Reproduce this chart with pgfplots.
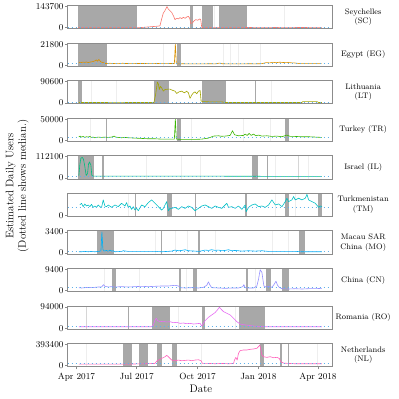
\documentclass[border=0pt]{standalone}
\usepackage{pgfplots}
\pgfplotsset{compat=1.18}
\definecolor{cSC}{HTML}{F8766D}
\definecolor{cEG}{HTML}{D89000}
\definecolor{cLT}{HTML}{A3A500}
\definecolor{cTR}{HTML}{39B600}
\definecolor{cIL}{HTML}{00BF7D}
\definecolor{cTM}{HTML}{00BFC4}
\definecolor{cMO}{HTML}{00B0F6}
\definecolor{cCN}{HTML}{9590FF}
\definecolor{cRO}{HTML}{E76BF3}
\definecolor{cNL}{HTML}{FF62BC}
\definecolor{medc}{HTML}{5FB0EA}
\definecolor{shadec}{HTML}{A8A8A8}
\definecolor{framec}{HTML}{8C8C8C}
\definecolor{lightc}{HTML}{EEEEEE}
\definecolor{midc}{HTML}{D6D6D6}
\tikzset{strip/.style={font=\fontsize{8}{9.5}\selectfont, align=center, xshift=30.5bp}}
\pgfplotsset{
  panel/.style={
    scale only axis, width=265.2bp, height=23.3bp,
    xmin=-13.6, xmax=387.2, ymin=\ylo, ymax=\yhi,
    anchor=north west, axis on top, clip=false,
    axis line style={draw=framec, line width=0.9bp},
    xtick=\empty, ytick pos=left, xtick pos=bottom,
    tick align=outside, major tick length=2.6bp,
    tick style={draw=framec, line width=0.7bp},
    yticklabel style={font=\fontsize{9}{9}\selectfont, inner sep=1.2bp},
    xticklabel style={font=\fontsize{9}{9}\selectfont},
    scaled y ticks=false,
  },
  shadeS/.style={fill=shadec, draw=none, forget plot},
  darkS/.style={draw=shadec, line width=1.4bp, forget plot},
  midS/.style={draw=midc, line width=1bp, forget plot},
  lightS/.style={draw=lightc, line width=0.6bp, forget plot},
  medS/.style={draw=medc, line width=1bp, dash pattern=on 1.1bp off 2.9bp, forget plot},
  serS/.style={line width=0.6bp, line join=round, forget plot},
}
\newcommand\shd[2]{\addplot[shadeS] coordinates {(#1,\ylo) (#2,\ylo) (#2,\yhi) (#1,\yhi)};}
\newcommand\vdk[1]{\addplot[darkS] coordinates {(#1,\ylo) (#1,\yhi)};}
\newcommand\vmd[1]{\addplot[midS] coordinates {(#1,\ylo) (#1,\yhi)};}
\newcommand\vlt[1]{\addplot[lightS] coordinates {(#1,\ylo) (#1,\yhi)};}
\newcommand\med[1]{\addplot[medS] coordinates {(-13.6,#1) (387.2,#1)};}
\begin{document}
\begin{tikzpicture}
\useasboundingbox (0,0) rectangle (399bp,-399bp);
% ---------- Seychelles
\def\ylo{-7185}\def\yhi{150885}
\begin{axis}[panel, at={(67.5bp,-5.5bp)}, ytick={0,143700}, yticklabels={0,143700}]
\shd{3}{90.9}\shd{172.2}{175.7}\shd{189.3}{206}\shd{215.6}{257.4}
\vlt{208.5}\vlt{314.5}
\addplot[serS, cSC] coordinates {(2.5,0) (30,0) (60,0) (93.4,0) (98.4,1500) (103.5,3500) (108.5,5500) (113.6,7500) (118.6,9000) (123.7,11000) (126.2,14000) (128.7,59700) (131.2,99500) (133.8,117000) (136.8,143700) (138.8,126000) (141.3,115000) (143.9,104000) (146.4,82000) (148.9,55000) (151.4,64000) (154,60000) (156.5,68500) (159,62000) (161.5,70800) (164.1,64000) (166.6,73000) (169.1,77400) (171.1,64000) (172.7,28700) (175.2,33000) (177.7,46400) (180.2,55300) (183.2,50800) (186.3,59700) (187.8,53000) (189.3,2000) (191.8,800) (200,600) (220,1200) (240,800) (260,1500) (280,900) (300,1400) (320,1000) (340,1600) (360,900) (371,1100)};
\med{0}
\node[strip] at (rel axis cs:1,0.5) {Seychelles\\(SC)};
\end{axis}
% ---------- Egypt
\def\ylo{-1090}\def\yhi{22890}
\begin{axis}[panel, at={(67.5bp,-43.06bp)}, ytick={0,21800}, yticklabels={0,21800}]
\shd{3}{46.4}\shd{151.4}{157.5}
\vlt{131.2}\vlt{221.6}\vlt{232.7}\vlt{244.3}\vlt{277.1}
\addplot[serS, cEG] coordinates {(3.5,3200) (5.5,2600) (7.6,2900) (10,3300) (12.6,3000) (15.1,3400) (17.7,2800) (20.2,3300) (22.7,3500) (25.2,3900) (27.8,4600) (29.8,5600) (31.8,4200) (33.8,6000) (35.3,4800) (36.9,3500) (40.4,2800) (43.9,1800) (46.4,1900) (50.5,2100) (55,1800) (60,2000) (65,1900) (70,2100) (75,1800) (80,2000) (90,1900) (100,1800) (110,2000) (120,1900) (130,1700) (140,1800) (147.9,1900) (149.4,21800) (150.9,1500) (154,1400) (160,1600) (170,1400) (180,1500) (190,1400) (200,1600) (210,1500) (216.6,2300) (220,1600) (230,1400) (240,1500) (250,1400) (260,1600) (270,1500) (280,1700) (287,2800) (292,2500) (297,3100) (302,2700) (307,3200) (312,2900) (318,3000) (324,2600) (330,2400) (338,1700) (350,1800) (360,1700) (370.5,1800)};
\med{1600}
\node[strip] at (rel axis cs:1,0.5) {Egypt (EG)};
\end{axis}
% ---------- Lithuania
\def\ylo{-4530}\def\yhi{95130}
\begin{axis}[panel, at={(67.5bp,-80.62bp)}, ytick={0,90600}, yticklabels={0,90600}]
\shd{3}{8.6}\shd{117.1}{139.8}\shd{189.3}{225.6}
\vdk{270.1}\vlt{22.7}\vlt{60.6}\vlt{293.8}
\addplot[serS, cLT] coordinates {(3.5,1400) (30,1400) (60,1300) (90,1400) (117,1500) (119.6,36000) (122.2,89000) (123.7,81000) (125.2,57000) (126.7,71000) (128.7,64000) (131.2,50000) (133.8,57000) (137.8,58500) (141.4,58500) (144.9,54000) (148.9,50000) (151.4,40000) (154.9,47000) (159,50000) (163.1,43000) (166.6,50000) (169.1,43000) (171.6,19500) (174.2,33500) (176.7,43000) (179.2,47000) (181.7,39000) (184.3,50000) (186.8,53000) (188.3,8000) (190.3,5500) (200,4500) (210,4200) (219.6,4200) (225.6,1400) (260,1400) (300,1400) (340.7,1400) (341.7,5500) (363.5,5500) (366,1400) (371,1400)};
\med{1000}
\node[strip] at (rel axis cs:1,0.5) {Lithuania\\(LT)};
\end{axis}
% ---------- Turkey
\def\ylo{-2500}\def\yhi{52500}
\begin{axis}[panel, at={(67.5bp,-118.18bp)}, ytick={0,50000}, yticklabels={0,50000}]
\shd{151.4}{157.5}\shd{314.5}{320.5}
\vdk{45.4}\vlt{20.2}\vlt{174.2}\vlt{252.4}\vlt{293}
\addplot[serS, cTR] coordinates {(3.5,8700) (5.6,10200) (7.6,7900) (10.1,9400) (12.6,7100) (15.1,8700) (17.7,7900) (20.2,9400) (22.7,7100) (25.2,7900) (27.8,6300) (32.8,7900) (37.9,7100) (42.9,7900) (48,7100) (53,7900) (57,10200) (59.1,7900) (63.1,7100) (68.1,6300) (73.2,7100) (78.2,6300) (88.3,5500) (98.4,4700) (108.5,3900) (118.6,3900) (128.7,3100) (138.8,3100) (147.9,3100) (149.4,50000) (150.9,3100) (159,2400) (169.1,2400) (179.2,2400) (189.3,3100) (199.4,5500) (207,10200) (214.5,11000) (219,9800) (224.6,10200) (232.2,11800) (235.7,22800) (238.8,13400) (244.8,11000) (252.4,11800) (254.9,15000) (257.9,11800) (261,16500) (264,11800) (267.5,15000) (271.1,11000) (275.1,12600) (280.2,10200) (287.7,11000) (295.3,9400) (302.9,10200) (310.5,8700) (318,12600) (323,9400) (330.6,9400) (340.7,8700) (350.8,8700) (360.9,7900) (371,7100)};
\med{7500}
\node[strip] at (rel axis cs:1,0.5) {Turkey (TR)};
\end{axis}
% ---------- Israel
\def\ylo{-5605}\def\yhi{117705}
\begin{axis}[panel, at={(67.5bp,-155.74bp)}, ytick={0,112100}, yticklabels={0,112100}]
\shd{3}{26.8}\shd{265}{273.6}
\vdk{39.9}\vdk{288.8}\vmd{335.7}\vlt{106}\vlt{159}\vlt{186.8}\vlt{300.4}\vlt{350.8}
\addplot[serS, cIL] coordinates {(3.5,9800) (5,68500) (6.6,104000) (8.6,109000) (10.6,99000) (12.6,60000) (14.6,13300) (16.7,24000) (18.2,74000) (19.7,84500) (21.7,68500) (23.2,13300) (25.2,9800) (60,9800) (120,9700) (180,9600) (220,9500) (260,9000) (300,8800) (340,8600) (371,8500)};
\med{10000}
\node[strip] at (rel axis cs:1,0.5) {Israel (IL)};
\end{axis}
% ---------- Turkmenistan
\def\ylo{-100}\def\yhi{2100}
\begin{axis}[panel, at={(67.5bp,-193.3bp)}, ytick={0}, yticklabels={0}]
\shd{136.3}{143.9}\shd{314.5}{320.5}\shd{365}{371}
\vdk{89.4}\vdk{180.2}\vdk{256.4}\vlt{78}\vlt{300.4}\vlt{330.6}
\addplot[serS, cTM] coordinates {(5,997) (7.6,1156) (10.1,838) (12.6,1092) (15.1,901) (17.7,997) (20.2,838) (22.7,1060) (25.2,774) (27.8,901) (30.3,774) (32.8,997) (35.3,838) (37.9,774) (40.4,1475) (42.9,901) (45.4,838) (48,997) (53,774) (58.1,997) (63.1,838) (68.1,1156) (73.2,901) (75.7,1220) (78.2,774) (80.8,901) (83.3,583) (85.8,838) (88.3,519) (90.9,678) (93.4,455) (98.4,997) (103.5,838) (108.5,1220) (113.6,1475) (116.1,1315) (118.6,1156) (123.7,838) (128.7,519) (131.2,678) (136.3,1315) (138.8,455) (141.3,678) (143.9,678) (148.9,774) (154,583) (159,838) (164.1,678) (169.1,901) (174.2,774) (179.2,455) (184.3,678) (189.3,901) (194.3,997) (199.4,838) (204.4,678) (209.5,901) (214.5,774) (219.6,678) (224.6,997) (227.2,1156) (229.7,774) (234.7,838) (239.8,678) (244.8,901) (249.9,583) (254.9,997) (256.4,360) (260,774) (265,997) (270.1,1092) (275.1,838) (280.2,901) (285.2,774) (290.3,997) (295.3,1475) (300.4,997) (305.4,1092) (310.5,838) (315.5,1315) (318,1634) (320.5,1315) (325.6,1475) (328.1,1800) (330.6,1475) (335.7,1634) (340.7,1475) (345.8,1634) (348.3,2000) (350.8,1475) (355.9,1315) (360.9,1156) (366,774) (368.5,901) (371,838)};
\med{775}
\node[strip] at (rel axis cs:1,0.5) {Turkmenistan\\(TM)};
\end{axis}
% ---------- Macau
\def\ylo{-170}\def\yhi{3570}
\begin{axis}[panel, at={(67.5bp,-230.86bp)}, ytick={0,3400}, yticklabels={0,3400}]
\shd{30.3}{56.5}\shd{336.7}{344.8}
\vdk{128.7}\vdk{185.3}\vlt{118.6}\vlt{148.9}\vlt{168.1}\vlt{209.5}\vlt{295.3}\vlt{320.5}
\addplot[serS, cMO] coordinates {(3.5,215) (7.6,215) (12.6,270) (17.7,215) (22.7,270) (27.8,215) (32.8,270) (36.9,320) (38.4,3400) (39.9,590) (41.9,320) (45.4,430) (48,270) (50.5,490) (53,320) (55.5,380) (58.1,215) (68.1,270) (70.7,380) (78.2,270) (98.4,270) (118.6,270) (128.7,215) (143.9,320) (148.9,490) (154,380) (159,430) (164.1,540) (169.1,380) (179.2,320) (185.3,270) (194.3,490) (199.4,430) (204.4,540) (209.5,430) (214.5,490) (219.6,380) (224.6,430) (229.7,540) (234.7,380) (239.8,430) (249.9,320) (260,380) (270.1,320) (280.2,380) (290.3,270) (305.4,270) (330.6,270) (340.7,215) (355.9,215) (371,215)};
\med{270}
\node[strip] at (rel axis cs:1,0.5) {Macau SAR\\China (MO)};
\end{axis}
% ---------- China
\def\ylo{-470}\def\yhi{9870}
\begin{axis}[panel, at={(67.5bp,-268.42bp)}, ytick={0,9400}, yticklabels={0,9400}]
\shd{53}{59.1}\shd{175.7}{182.2}\shd{286.2}{293.3}\shd{310.5}{320.5}
\vdk{156.5}\vdk{257.4}\vlt{41.9}\vlt{94.4}\vlt{166.6}\vlt{270.1}
\addplot[serS, cCN] coordinates {(3.5,1330) (7.6,1180) (12.6,1330) (17.7,1480) (22.7,1330) (27.8,1480) (32.8,1630) (37.9,1630) (40.9,2680) (42.9,1930) (48,1630) (53,1780) (58.1,1630) (68.1,1780) (78.2,1630) (88.3,1780) (98.4,1930) (108.5,1780) (118.6,1930) (128.7,2080) (138.8,2080) (148.9,2380) (154,2080) (157,1330) (164.1,1180) (174.2,1330) (184.3,1180) (191.8,1480) (196.9,2380) (199.4,3880) (201.9,2380) (204.4,1330) (214.5,1180) (224.6,1030) (234.7,1180) (244.8,1180) (251.4,1780) (252.9,2680) (254.9,1330) (260,1180) (267.5,1180) (272.6,2080) (275.1,5070) (277.6,9300) (280.2,8100) (281.7,5070) (283.2,2080) (286.2,1630) (290.3,1930) (295.3,1480) (298.8,2830) (301.4,4180) (303.9,2380) (306.4,1480) (310.5,880) (320.5,730) (330.6,880) (340.7,730) (350.8,880) (360.9,880) (371,1030)};
\med{1330}
\node[strip] at (rel axis cs:1,0.5) {China (CN)};
\end{axis}
% ---------- Romania
\def\ylo{-4700}\def\yhi{98700}
\begin{axis}[panel, at={(67.5bp,-305.98bp)}, ytick={0,94000}, yticklabels={0,94000}]
\shd{114.6}{141.3}\shd{189.3}{194.3}\shd{245.8}{285.2}
\vdk{78.2}\vmd{15.1}\vlt{154}\vlt{239.8}
\addplot[serS, cRO] coordinates {(3.5,6700) (27.8,6700) (53,6700) (78.2,6700) (103.5,6700) (113.6,6700) (116.1,14200) (118.6,36600) (120.6,44000) (122.7,33600) (126.2,29100) (131.2,30600) (136.3,27600) (141.3,29100) (146.4,24600) (151.4,26100) (156.5,21600) (161.5,23100) (166.6,20100) (171.6,21600) (176.7,18700) (181.7,20100) (186.8,21600) (189.3,9700) (191.8,21600) (194.3,33600) (199.4,48500) (204.4,58900) (209.5,69400) (213,81300) (216,93300) (218.6,84300) (222.1,73900) (227.2,66400) (232.2,58900) (237.3,44000) (242.3,29100) (247.3,18700) (252.4,15700) (260,12700) (267.5,9700) (275.1,8200) (285.2,6700) (305.4,6700) (330.6,6700) (371,6700)};
\med{6300}
\node[strip] at (rel axis cs:1,0.5) {Romania (RO)};
\end{axis}
% ---------- Netherlands
\def\ylo{-19670}\def\yhi{413070}
\begin{axis}[panel, at={(67.5bp,-343.54bp)}, ytick={0,393400}, yticklabels={0,393400},
  xtick={0,91,183,275,365}, xticklabels={Apr 2017,Jul 2017,Oct 2017,Jan 2018,Apr 2018}]
\shd{69.7}{83.3}\shd{94.4}{107.5}\shd{122.2}{128.7}\shd{144.9}{151.4}\shd{277.6}{283.7}
\vdk{308.9}\vdk{320.5}\vlt{15.1}\vlt{189.3}\vlt{363.4}
\addplot[serS, cNL] coordinates {(3.5,31200) (27.8,31200) (53,31200) (78.2,31200) (103.5,37500) (118.6,43700) (121.2,87400) (123.7,106200) (128.7,137400) (133.8,168600) (136.3,193600) (138.8,168600) (141.3,137400) (143.9,106200) (148.9,93700) (154,106200) (159,93700) (164.1,99900) (169.1,106200) (174.2,93700) (179.2,106200) (184.3,112400) (188.3,93700) (190.3,43700) (199.4,43700) (209.5,37500) (219.6,43700) (229.7,37500) (237.3,43700) (238.8,106200) (240.8,156100) (242.8,106200) (244.8,231000) (247.3,281000) (252.4,293500) (257.4,293500) (262.5,306000) (267.5,312200) (272.6,324700) (275.1,355900) (277.1,387100) (278.6,293500) (280.2,199800) (282.7,168600) (287.7,156100) (292.8,168600) (297.8,149900) (302.9,156100) (306.4,137400) (308.9,74900) (312.9,50000) (320.5,43700) (330.6,37500) (350.8,37500) (371,37500)};
\med{40000}
\node[strip] at (rel axis cs:1,0.5) {Netherlands\\(NL)};
\end{axis}
\node[rotate=90, align=center, font=\fontsize{11}{12.5}\selectfont] at (17.2bp,-186bp) {Estimated Daily Users\\(Dotted line shows median.)};
\node[font=\fontsize{11}{11}\selectfont] at (201bp,-389bp) {Date};
\end{tikzpicture}
\end{document}
